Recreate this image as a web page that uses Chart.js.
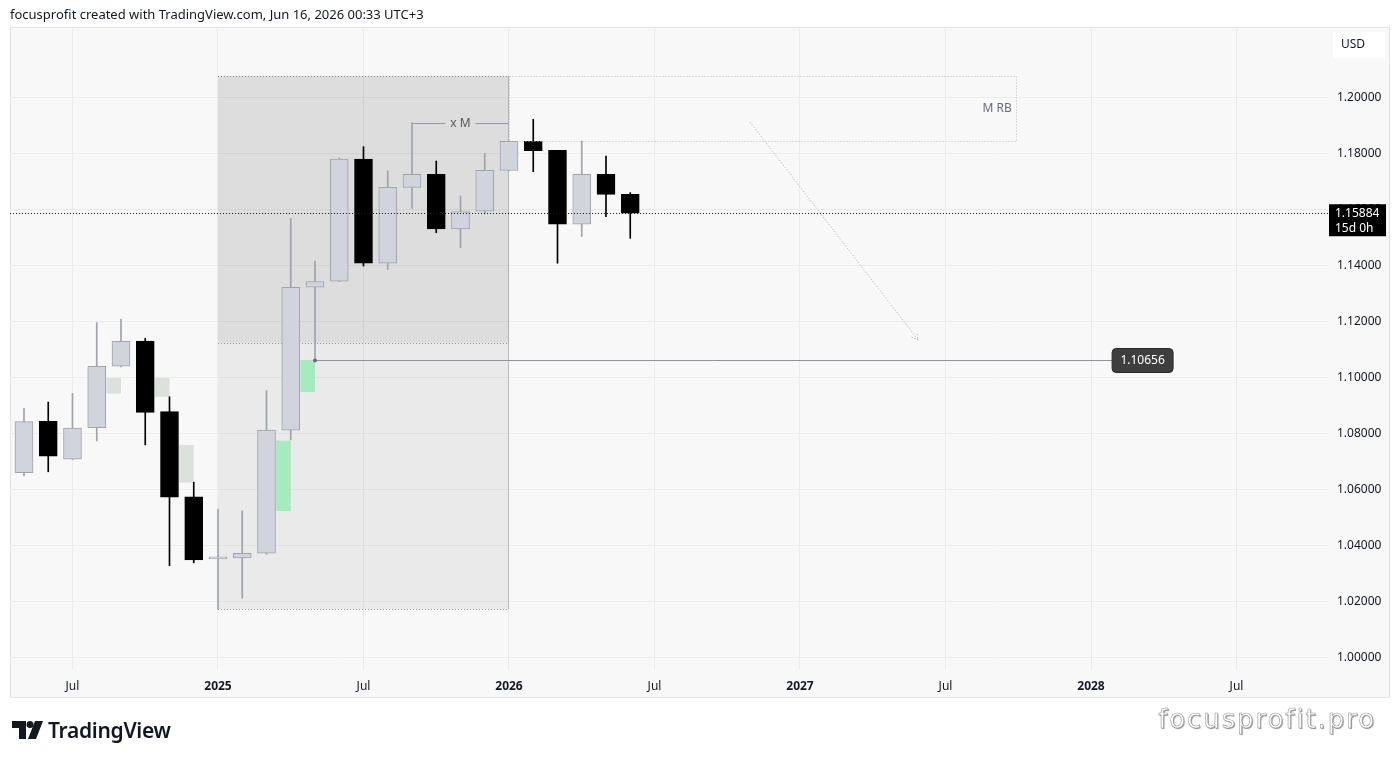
<!DOCTYPE html>
<html>
<head>
<meta charset="utf-8">
<script src="https://cdn.jsdelivr.net/npm/chart.js@4.4.1/dist/chart.umd.min.js"></script>
<style>
  body { margin: 0; background: #fff; }
  #wrap { position: relative; width: 1400px; height: 759px; overflow: hidden; }
  #c { position: absolute; left: 0; top: 0; }
  #hdr { position: absolute; left: 10px; top: 5px; font: 13px "Noto Sans", sans-serif; color: #131722; line-height: 18px; }
  #logo { position: absolute; left: 12px; top: 716px; display: flex; align-items: center; }
  #logo span { font: 600 21px "Noto Sans", sans-serif; color: #131722; margin-left: 5px; letter-spacing: -0.3px; }
  #wm { position: absolute; right: 24px; top: 704px; font: 26px "DejaVu Sans", sans-serif; color: #fff;
        -webkit-text-stroke: 0.6px #9a9a9a; text-shadow: 1px 1px 1px rgba(0,0,0,0.45); letter-spacing: 1.9px; }
</style>
</head>
<body>
<div id="wrap">
  <canvas id="c" width="1400" height="759"></canvas>
  <div id="hdr">focusprofit created with TradingView.com, Jun 16, 2026 00:33 UTC+3</div>
  <div id="logo">
    <svg width="31" height="18" viewBox="0 0 31 18">
      <path d="M0 0H14V18H7V7H0Z" fill="#131722"/>
      <circle cx="18" cy="3.5" r="3.5" fill="#131722"/>
      <path d="M23 0H31L24 18H16Z" fill="#131722"/>
    </svg>
    <span>TradingView</span>
  </div>
  <div id="wm">focusprofit.pro</div>
</div>
<script>
// monthly candles (EURUSD, USD)
var months = ['2024-05','2024-06','2024-07','2024-08','2024-09','2024-10','2024-11','2024-12',
              '2025-01','2025-02','2025-03','2025-04','2025-05','2025-06','2025-07','2025-08',
              '2025-09','2025-10','2025-11','2025-12','2026-01','2026-02','2026-03','2026-04',
              '2026-05','2026-06'];
var open  = [1.0662,1.0845,1.0710,1.0823,1.1042,1.1132,1.0880,1.0576,
             1.0354,1.0357,1.0374,1.0814,1.1324,1.1346,1.1782,1.1410,
             1.1681,1.1727,1.1532,1.1596,1.1741,1.1845,1.1813,1.1549,
             1.1727,1.1656];
var high  = [1.0892,1.0914,1.0945,1.1198,1.1210,1.1142,1.0933,1.0628,
             1.0531,1.0526,1.0955,1.1570,1.1418,1.1786,1.1826,1.1740,
             1.1912,1.1775,1.1650,1.1802,1.1846,1.1924,1.1813,1.1846,
             1.1793,1.1662];
var low   = [1.0650,1.0665,1.0708,1.0775,1.1040,1.0761,1.0330,1.0340,
             1.0174,1.0213,1.0370,1.0779,1.1064,1.1344,1.1400,1.1388,
             1.1606,1.1519,1.1465,1.1586,1.1740,1.1737,1.1410,1.1505,
             1.1576,1.1499];
var close = [1.0844,1.0721,1.0821,1.1042,1.1131,1.0877,1.0574,1.0350,
             1.0360,1.0374,1.0814,1.1324,1.1344,1.1782,1.1410,1.1681,
             1.1727,1.1532,1.1594,1.1742,1.1845,1.1812,1.1549,1.1727,
             1.1656,1.15884];

var lastPrice = 1.15884;
var lastCountdown = '15d 0h';

// axis ticks (x in months from Jan 2025)
var xTickValues = [-6, 0, 6, 12, 18, 24, 30, 36, 42];
var xTickLabels = ['Jul', '2025', 'Jul', '2026', 'Jul', '2027', 'Jul', '2028', 'Jul'];
var yTickValues = [1.00, 1.02, 1.04, 1.06, 1.08, 1.10, 1.12, 1.14, 1.16, 1.18, 1.20];

// imbalance boxes: month of right candle, price range, kind
var zoneMonths = ['2024-09', '2024-11', '2024-12', '2025-04', '2025-05'];
var zoneLow    = [1.0944, 1.0933, 1.0626, 1.0525, 1.0950];
var zoneHigh   = [1.1000, 1.1000, 1.0761, 1.0776, 1.1064];
var zoneKind   = ['grey', 'grey', 'grey', 'green', 'green'];

// drawings (x in months from Jan 2025)
var rangeBox = [0, 12, 1.0174, 1.2079];      // x1, x2, low, high
var rangeUpper = 1.1126;
var rbBox = [12, 32.9, 1.1846, 1.2079];      // "M RB"
var xmLine = [8, 12, 1.1912];                // "x M"
var lowLine = [4, 36.87, 1.10656];
var arrowLine = [21.94, 1.1914, 28.87, 1.1136];

function monthIndex(s) {
  var p = s.split('-');
  return (parseInt(p[0]) - 2025) * 12 + parseInt(p[1]) - 1;
}
var xs = months.map(monthIndex);
var isUp = close.map(function (c, i) { return c >= open[i]; });

var UP_FILL = '#d1d4dc', UP_LINE = '#a0a3ab', DOWN = '#000000';

var overlay = {
  id: 'overlay',
  beforeDraw: function (chart) {
    var c = chart.ctx;
    c.save();
    c.fillStyle = '#ffffff';
    c.fillRect(0, 0, chart.width, chart.height);
    c.fillStyle = '#f8f8f8';
    c.fillRect(10, 27, 1380, 671);
    c.strokeStyle = '#e4e4e4';
    c.lineWidth = 1;
    c.strokeRect(10.5, 27.5, 1379, 670);
    c.restore();
  },
  beforeDatasetsDraw: function (chart) {
    var c = chart.ctx, X = chart.scales.x, Y = chart.scales.y;
    c.save();
    // big range box, two layers
    var x1 = X.getPixelForValue(rangeBox[0]), x2 = X.getPixelForValue(rangeBox[1]);
    var yl = Y.getPixelForValue(rangeBox[2]), yh = Y.getPixelForValue(rangeBox[3]);
    var ym = Y.getPixelForValue(rangeUpper);
    c.fillStyle = 'rgba(0,0,0,0.055)';
    c.fillRect(x1, yh, x2 - x1, yl - yh);
    c.fillRect(x1, yh, x2 - x1, ym - yh);
    c.strokeStyle = 'rgba(90,90,90,0.6)';
    c.setLineDash([1, 2]);
    c.beginPath();
    c.moveTo(x1, Math.round(yh) + 0.5); c.lineTo(x2, Math.round(yh) + 0.5);
    c.moveTo(x1, Math.round(yl) + 0.5); c.lineTo(x2, Math.round(yl) + 0.5);
    c.moveTo(x1, Math.round(ym) + 0.5); c.lineTo(x2, Math.round(ym) + 0.5);
    c.stroke();
    c.setLineDash([]);
    c.strokeStyle = 'rgba(120,120,120,0.35)';
    c.beginPath();
    c.moveTo(Math.round(x2) - 0.5, yh); c.lineTo(Math.round(x2) - 0.5, yl);
    c.stroke();
    // imbalance boxes
    for (var i = 0; i < zoneMonths.length; i++) {
      var m = monthIndex(zoneMonths[i]);
      var a = X.getPixelForValue(m - 0.6), b = X.getPixelForValue(m);
      var t = Y.getPixelForValue(zoneHigh[i]), u = Y.getPixelForValue(zoneLow[i]);
      c.fillStyle = zoneKind[i] === 'green' ? '#a6eac0' : '#dde1dc';
      c.fillRect(a, t, b - a, u - t);
    }
    c.restore();
  },
  afterDatasetsDraw: function (chart) {
    var c = chart.ctx, X = chart.scales.x, Y = chart.scales.y, area = chart.chartArea;
    c.save();
    c.font = '12px "Noto Sans", sans-serif';
    // "M RB" dotted box
    var bx1 = X.getPixelForValue(rbBox[0]), bx2 = X.getPixelForValue(rbBox[1]);
    var by1 = Y.getPixelForValue(rbBox[3]), by2 = Y.getPixelForValue(rbBox[2]);
    c.strokeStyle = '#b8bbc2';
    c.lineWidth = 1;
    c.setLineDash([1, 2]);
    c.strokeRect(Math.round(bx1) + 0.5, Math.round(by1) + 0.5, Math.round(bx2 - bx1), Math.round(by2 - by1));
    c.setLineDash([]);
    c.fillStyle = '#6a6d78';
    c.textAlign = 'right';
    c.textBaseline = 'middle';
    c.fillText('M RB', bx2 - 4, (by1 + by2) / 2);

    // "x M" line
    var mx1 = X.getPixelForValue(xmLine[0]), mx2 = X.getPixelForValue(xmLine[1]);
    var my = Math.round(Y.getPixelForValue(xmLine[2])) + 0.5;
    var mid = (mx1 + mx2) / 2;
    c.strokeStyle = '#9598a1';
    c.beginPath();
    c.moveTo(mx1, my); c.lineTo(mid - 15, my);
    c.moveTo(mid + 15, my); c.lineTo(mx2, my);
    c.stroke();
    c.fillStyle = '#555861';
    c.textAlign = 'center';
    c.fillText('x M', mid, my);

    // low line with label
    var lx1 = X.getPixelForValue(lowLine[0]), lx2 = X.getPixelForValue(lowLine[1]);
    var ly = Math.round(Y.getPixelForValue(lowLine[2])) + 0.5;
    c.strokeStyle = '#8f929b';
    c.beginPath();
    c.moveTo(lx1, ly); c.lineTo(lx2, ly);
    c.stroke();
    c.fillStyle = '#6a6d78';
    c.beginPath(); c.arc(lx1, ly, 2, 0, Math.PI * 2); c.fill();
    c.fillStyle = '#3e3e3e';
    c.strokeStyle = '#2a2a2a';
    c.beginPath();
    c.roundRect(lx2, ly - 12, 61, 24, 4);
    c.fill(); c.stroke();
    c.fillStyle = '#ffffff';
    c.textAlign = 'center';
    c.fillText(lowLine[2].toFixed(5), lx2 + 30.5, ly + 0.5);

    // dotted arrow
    var ax1 = X.getPixelForValue(arrowLine[0]), ay1 = Y.getPixelForValue(arrowLine[1]);
    var ax2 = X.getPixelForValue(arrowLine[2]), ay2 = Y.getPixelForValue(arrowLine[3]);
    c.strokeStyle = '#a7aab2';
    c.setLineDash([1, 2]);
    c.beginPath(); c.moveTo(ax1, ay1); c.lineTo(ax2, ay2); c.stroke();
    var ang = Math.atan2(ay2 - ay1, ax2 - ax1);
    c.beginPath();
    c.moveTo(ax2 - 7 * Math.cos(ang - 0.5), ay2 - 7 * Math.sin(ang - 0.5));
    c.lineTo(ax2, ay2);
    c.lineTo(ax2 - 7 * Math.cos(ang + 0.5), ay2 - 7 * Math.sin(ang + 0.5));
    c.stroke();

    // last price line
    var py = Math.round(Y.getPixelForValue(lastPrice)) + 0.5;
    c.strokeStyle = '#131722';
    c.beginPath(); c.moveTo(area.left, py); c.lineTo(area.right, py); c.stroke();
    c.setLineDash([]);
    c.restore();
  },
  afterDraw: function (chart) {
    var c = chart.ctx, Y = chart.scales.y;
    c.save();
    c.font = '12px "Noto Sans", sans-serif';
    c.textBaseline = 'middle';
    c.textAlign = 'left';
    // USD box
    c.fillStyle = '#ffffff';
    c.fillRect(1333, 32, 52, 26);
    c.fillStyle = '#131722';
    c.fillText('USD', 1341, 45);
    // last price label
    var py = Y.getPixelForValue(lastPrice);
    c.fillStyle = '#000000';
    c.fillRect(1329, py - 9, 57, 32);
    c.fillStyle = '#ffffff';
    c.fillText(lastPrice.toFixed(5), 1335, py);
    c.fillText(lastCountdown, 1335, py + 15);
    c.restore();
  }
};

Chart.defaults.font.family = '"Noto Sans", sans-serif';

new Chart(document.getElementById('c'), {
  type: 'bar',
  data: {
    datasets: [{
      label: 'wick',
      order: 2,
      grouped: false,
      data: xs.map(function (x, i) { return { x: x, y: [low[i], high[i]] }; }),
      backgroundColor: isUp.map(function (u) { return u ? '#9fa2aa' : DOWN; }),
      borderWidth: 0,
      barThickness: 1
    }, {
      label: 'body',
      order: 1,
      grouped: false,
      data: xs.map(function (x, i) { return { x: x, y: [open[i], close[i]] }; }),
      backgroundColor: isUp.map(function (u) { return u ? UP_FILL : DOWN; }),
      borderColor: isUp.map(function (u) { return u ? UP_LINE : DOWN; }),
      borderWidth: 1,
      borderSkipped: false,
      minBarLength: 2,
      barThickness: 18
    }]
  },
  options: {
    responsive: false,
    animation: false,
    layout: { padding: { left: 10, top: 27, right: 10, bottom: 61 } },
    plugins: { legend: { display: false }, tooltip: { enabled: false } },
    scales: {
      x: {
        type: 'linear',
        min: -8.577,
        max: 45.773,
        offset: false,
        border: { display: false },
        grid: { color: '#ececec', drawTicks: false, offset: false },
        afterBuildTicks: function (s) { s.ticks = xTickValues.map(function (v) { return { value: v }; }); },
        afterFit: function (s) { s.height = 28; },
        ticks: {
          padding: 9,
          color: '#131722',
          maxRotation: 0,
          autoSkip: false,
          font: function (ctx) {
            var yr = ctx.tick && ctx.tick.value % 12 === 0;
            return { size: 12, weight: yr ? 'bold' : 'normal' };
          },
          callback: function (v) { var k = xTickValues.indexOf(v); return k < 0 ? '' : xTickLabels[k]; }
        }
      },
      y: {
        type: 'linear',
        position: 'right',
        min: 0.995714,
        max: 1.225357,
        border: { display: false },
        grid: { color: '#ececec', drawTicks: false },
        afterBuildTicks: function (s) { s.ticks = yTickValues.map(function (v) { return { value: v }; }); },
        afterFit: function (s) { s.width = 62; },
        ticks: {
          padding: 9,
          color: '#131722',
          font: { size: 12 },
          callback: function (v) { return Number(v).toFixed(5); }
        }
      }
    }
  },
  plugins: [overlay]
});
</script>
</body>
</html>
